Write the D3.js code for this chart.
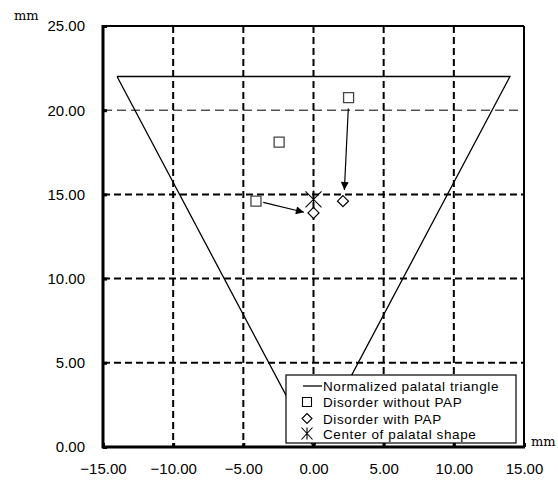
<!DOCTYPE html>
<html>
<head>
<meta charset="utf-8">
<script src="https://cdn.jsdelivr.net/npm/d3@7"></script>
<style>
  body { margin: 0; background: #fff; }
</style>
</head>
<body>
<div id="chart"></div>
<script>
// Chart data
const xTicks = [-15, -10, -5, 0, 5, 10, 15];
const yTicks = [0, 5, 10, 15, 20, 25];
const triangle = [[-14, 22], [14, 22], [0, 0], [-14, 22]];
const withoutPAP = [[2.5, 20.75], [-2.45, 18.1], [-4.1, 14.6]];
const withPAP = [[2.1, 14.6], [0.0, 13.9]];
const center = [[0.0, 14.7]];
const arrowFrom = [[2.48, 20.1], [-3.58, 14.53]];
const arrowTo = [[2.2, 15.26], [-0.68, 13.94]];
const legendLabels = ['Normalized palatal triangle', 'Disorder without PAP', 'Disorder with PAP', 'Center of palatal shape'];

const sans = '"Liberation Sans", Arial, sans-serif';
const serif = '"DejaVu Serif", "Liberation Serif", serif';

const width = 558;
const height = 480;
const margin = { top: 26, right: 34, bottom: 33, left: 103 };
const innerW = width - margin.left - margin.right;
const innerH = height - margin.top - margin.bottom;

const svg = d3.select('#chart')
  .append('svg')
  .attr('width', width)
  .attr('height', height);

const defs = svg.append('defs');
defs.append('marker')
  .attr('id', 'arrow')
  .attr('viewBox', '0 0 10 10')
  .attr('refX', 10)
  .attr('refY', 5)
  .attr('markerUnits', 'userSpaceOnUse')
  .attr('markerWidth', 9)
  .attr('markerHeight', 8)
  .attr('orient', 'auto')
  .append('path')
  .attr('d', 'M0,0 L10,5 L0,10 Z')
  .attr('fill', '#000');

const g = svg.append('g')
  .attr('transform', `translate(${margin.left},${margin.top})`);

const x = d3.scaleLinear().domain([-15, 15]).range([0, innerW]);
const y = d3.scaleLinear().domain([0, 25]).range([innerH, 0]);

// Grid lines
g.selectAll('.vgrid')
  .data(xTicks.filter(d => d > -15 && d < 15))
  .enter()
  .append('line')
  .attr('x1', d => x(d)).attr('x2', d => x(d))
  .attr('y1', 0).attr('y2', innerH)
  .attr('stroke', '#000')
  .attr('stroke-width', 2)
  .attr('stroke-dasharray', '7,4');

g.selectAll('.hgrid')
  .data(yTicks.filter(d => d > 0 && d < 25))
  .enter()
  .append('line')
  .attr('x1', 0).attr('x2', innerW)
  .attr('y1', d => y(d)).attr('y2', d => y(d))
  .attr('stroke', '#000')
  .attr('stroke-width', d => d === 20 ? 1 : 2)
  .attr('stroke-dasharray', d => d === 20 ? '9,5' : '7,4');

// Frame
g.append('line').attr('x1', 0).attr('x2', innerW).attr('y1', 0).attr('y2', 0)
  .attr('stroke', '#000').attr('stroke-width', 2);
g.append('line').attr('x1', innerW).attr('x2', innerW).attr('y1', 0).attr('y2', innerH)
  .attr('stroke', '#000').attr('stroke-width', 2);

// Axes
const yAxis = g.append('g')
  .call(d3.axisLeft(y).tickValues(yTicks).tickSize(-4).tickPadding(18).tickFormat(d3.format('.2f')));
const xAxis = g.append('g')
  .attr('transform', `translate(0,${innerH})`)
  .call(d3.axisBottom(x).tickValues(xTicks).tickSize(-4).tickPadding(16)
    .tickFormat(d => d3.format('.2f')(d).replace('-', '\u2212')));
[yAxis, xAxis].forEach(a => {
  a.select('.domain').remove();
  a.selectAll('.tick line').attr('stroke-width', 3);
  a.selectAll('text').attr('fill', '#000')
    .style('font-size', '15px')
    .style('font-family', sans);
});
g.append('line').attr('x1', 0).attr('x2', 0).attr('y1', -1).attr('y2', innerH + 1.5)
  .attr('stroke', '#000').attr('stroke-width', 3);
g.append('line').attr('x1', 0).attr('x2', innerW + 1).attr('y1', innerH).attr('y2', innerH)
  .attr('stroke', '#000').attr('stroke-width', 3);

// Triangle
g.append('path')
  .datum(triangle)
  .attr('d', d3.line().x(d => x(d[0])).y(d => y(d[1])))
  .attr('fill', 'none')
  .attr('stroke', '#000')
  .attr('stroke-width', 1.3);

// Arrows
g.selectAll('.arrow')
  .data(arrowFrom)
  .enter()
  .append('line')
  .attr('x1', d => x(d[0])).attr('y1', d => y(d[1]))
  .attr('x2', (d, i) => x(arrowTo[i][0])).attr('y2', (d, i) => y(arrowTo[i][1]))
  .attr('stroke', '#000')
  .attr('stroke-width', 1.2)
  .attr('marker-end', 'url(#arrow)');

// Symbols
const squarePath = 'M-5,-5 L5,-5 L5,5 L-5,5 Z';
const diamondPath = 'M0,-5.5 L5.5,0 L0,5.5 L-5.5,0 Z';
const starPath = 'M0,-9 L0,9 M-8,-8 L8,8 M-8,8 L8,-8';

g.selectAll('.sq')
  .data(withoutPAP)
  .enter()
  .append('path')
  .attr('d', squarePath)
  .attr('transform', d => `translate(${x(d[0])},${y(d[1])})`)
  .attr('fill', '#fff')
  .attr('stroke', '#444')
  .attr('stroke-width', 1.3);

g.selectAll('.dm')
  .data(withPAP)
  .enter()
  .append('path')
  .attr('d', diamondPath)
  .attr('transform', d => `translate(${x(d[0])},${y(d[1])})`)
  .attr('fill', '#fff')
  .attr('stroke', '#000')
  .attr('stroke-width', 1.2);

g.selectAll('.st')
  .data(center)
  .enter()
  .append('path')
  .attr('d', starPath)
  .attr('transform', d => `translate(${x(d[0])},${y(d[1])})`)
  .attr('fill', 'none')
  .attr('stroke', '#000')
  .attr('stroke-width', 1.1);

// Legend
const legend = svg.append('g').attr('transform', 'translate(286,375)');
legend.append('rect')
  .attr('width', 230).attr('height', 68)
  .attr('fill', '#fff').attr('stroke', '#000').attr('stroke-width', 1.2);
const rowY = [11, 27, 43.5, 58.5];
legendLabels.forEach((label, i) => {
  const row = legend.append('g').attr('transform', `translate(0,${rowY[i]})`);
  if (i === 0) {
    row.append('line').attr('x1', 17).attr('x2', 36).attr('y1', 0).attr('y2', 0)
      .attr('stroke', '#000').attr('stroke-width', 1.3);
  } else {
    const d = i === 1 ? 'M-4.5,-4.5 L4.5,-4.5 L4.5,4.5 L-4.5,4.5 Z'
      : i === 2 ? 'M0,-5 L5,0 L0,5 L-5,0 Z'
      : 'M0,-6 L0,6 M-5.5,-6 L5.5,6 M-5.5,6 L5.5,-6';
    row.append('path').attr('d', d).attr('transform', 'translate(21,0)')
      .attr('fill', i === 3 ? 'none' : '#fff').attr('stroke', '#000').attr('stroke-width', 1.1);
  }
  row.append('text')
    .attr('x', 37)
    .attr('y', 5)
    .style('font-family', sans)
    .style('font-size', '13.5px')
    .style('letter-spacing', '0.6px')
    .text(label);
});

// Unit labels
svg.append('text').attr('x', 14).attr('y', 20)
  .style('font-family', serif)
  .style('font-size', '13px').text('mm');
svg.append('text').attr('x', 531).attr('y', 446)
  .style('font-family', serif)
  .style('font-size', '13px').text('mm');
</script>
</body>
</html>
